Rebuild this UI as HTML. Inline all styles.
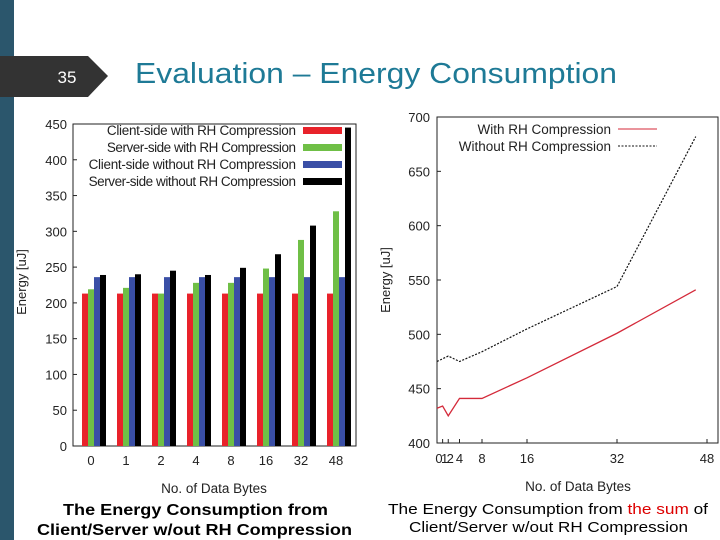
<!DOCTYPE html>
<html><head><meta charset="utf-8"><style>
body{margin:0;width:720px;height:540px;overflow:hidden;background:#fff;font-family:"Liberation Sans",sans-serif;position:relative}
.ab{position:absolute}
</style></head><body>
<div class="ab" style="left:0;top:0;width:14px;height:540px;background:#2b566c"></div>
<svg class="ab" style="left:0;top:0" width="720" height="540">
<polygon points="0,56 88,56 108,76 88,97 0,97" fill="#333"/>
<text x="67" y="83" fill="#fff" font-size="17" text-anchor="middle">35</text>
<text x="135" y="83" fill="#1e7a96" font-size="29" textLength="482" lengthAdjust="spacingAndGlyphs">Evaluation – Energy Consumption</text>
<g id="left"></g>
<g id="right"></g>
<text x="63" y="515" font-size="16" font-weight="bold" textLength="265" lengthAdjust="spacingAndGlyphs">The Energy Consumption from</text>
<text x="37" y="535" font-size="16" font-weight="bold" textLength="315" lengthAdjust="spacingAndGlyphs">Client/Server w/out RH Compression</text>
<text x="388" y="514" font-size="15" textLength="320" lengthAdjust="spacingAndGlyphs">The Energy Consumption from <tspan fill="#d00">the sum</tspan> of</text>
<text x="409" y="532" font-size="15" textLength="279" lengthAdjust="spacingAndGlyphs">Client/Server w/out RH Compression</text>
</svg>
<script>
const barCats=["0","1","2","4","8","16","32","48"];
const clientWith=[213,213,213,213,213,213,213,213];
const serverWith=[219,221,213,228,228,248,288,328];
const clientWithout=[236,236,236,236,236,236,236,236];
const serverWithout=[239,240,245,239,249,268,308,445];
const barSeriesNames=["Client-side with RH Compression","Server-side with RH Compression","Client-side without RH Compression","Server-side without RH Compression"];
const barTicks=[0,50,100,150,200,250,300,350,400,450];

const lineX=[0,1,2,4,8,16,32,46];
const withRH=[432,434,425,441,441,460,501,541];
const withoutX=[0,2,4,8,16,32,46];
const withoutRH=[475,480,475,484,505,544,682];
const lineXTicks=[0,1,2,4,8,16,32,48];
const lineXTickLabels=["0","1","2","4","8","16","32","48"];
const lineYTicks=[400,450,500,550,600,650,700];
const lineNames=["With RH Compression","Without RH Compression"];

const NS="http://www.w3.org/2000/svg";
function mk(p,t,a,txt){const e=document.createElementNS(NS,t);for(const k in a)e.setAttribute(k,a[k]);if(txt!==undefined)e.textContent=txt;p.appendChild(e);return e;}

(function(){
const g=document.getElementById('left');
const L=73,R=356,T=124,B=446;
const y=v=>B-(v-0)/450*(B-T);
const cx=i=>91+i*35+3;
const frame=mk(g,'rect',{x:L,y:T,width:R-L,height:B-T,fill:'none',stroke:'#222','stroke-width':1});

barTicks.forEach(t=>{
 const tl=mk(g,'text',{x:L-6,y:y(t)+5,'font-size':13,'text-anchor':'end',fill:'#222'},t);
 
 mk(g,'line',{x1:L,x2:L+4,y1:y(t),y2:y(t),stroke:'#222'});
});
const series=[clientWith,serverWith,clientWithout,serverWithout];
const cols=['#e8222a','#6fbf46','#3a4fa6','#000'];
barCats.forEach((c,i)=>{
 series.forEach((s,j)=>{
  const r=mk(g,'rect',{x:cx(i)-12+j*6,y:y(s[i]),width:6,height:B-y(s[i]),fill:cols[j]});
  
 });
 const xl=mk(g,'text',{x:cx(i)-3,y:B+19,'font-size':13,'text-anchor':'middle',fill:'#222'},c);
 
});
barSeriesNames.forEach((n,j)=>{
 const yy=T+6+j*17;
 const t=mk(g,'text',{x:296,y:yy+5,'font-size':13.5,'text-anchor':'end',fill:'#222',textLength:n.length*6.1},n);
 
 mk(g,'rect',{x:303,y:yy-3,width:39,height:7,fill:cols[j]});
});
const yt=mk(g,'text',{x:0,y:0,'font-size':13,'text-anchor':'middle',fill:'#222',transform:'translate(26,282) rotate(-90)'},'Energy [uJ]');

const xt=mk(g,'text',{x:214,y:493,'font-size':13.5,'text-anchor':'middle',fill:'#222'},'No. of Data Bytes');

})();

(function(){
const g=document.getElementById('right');
const L=437,R=718,T=117,B=443;
const x=v=>L+v*5.625;
const y=v=>B-(v-400)/300*(B-T);
const fr=mk(g,'rect',{x:L,y:T,width:R-L,height:B-T,fill:'none',stroke:'#222'});

lineYTicks.forEach(t=>{
 const tl=mk(g,'text',{x:L-7,y:y(t)+5,'font-size':13,'text-anchor':'end',fill:'#222'},t);
 
 mk(g,'line',{x1:L,x2:L+4,y1:y(t),y2:y(t),stroke:'#222'});
});
lineXTicks.forEach((t,i)=>{
 mk(g,'line',{x1:x(t),x2:x(t),y1:B,y2:B-4,stroke:'#222'});
 const tl=mk(g,'text',{x:x(t)+(t<4?2:0),y:B+20,'font-size':13,'text-anchor':'middle',fill:'#222'},lineXTickLabels[i]);
 
});
const p1=mk(g,'polyline',{points:lineX.map((v,i)=>x(v)+','+y(withRH[i])).join(' '),fill:'none',stroke:'#d42a3a','stroke-width':1.3});

const p2=mk(g,'polyline',{points:withoutX.map((v,i)=>x(v)+','+y(withoutRH[i])).join(' '),fill:'none',stroke:'#111','stroke-width':1.2,'stroke-dasharray':'2,1.5'});

lineNames.forEach((n,j)=>{
 const yy=129+j*17;
 const t=mk(g,'text',{x:611,y:yy+5,'font-size':13.5,'text-anchor':'end',fill:'#222'},n);
 
 mk(g,'line',{x1:618,x2:657,y1:yy,y2:yy,stroke:j?'#111':'#d42a3a','stroke-dasharray':j?'2,1.5':'none'});
});
const yt=mk(g,'text',{x:0,y:0,'font-size':13,'text-anchor':'middle',fill:'#222',transform:'translate(390,280) rotate(-90)'},'Energy [uJ]');

const xt=mk(g,'text',{x:578,y:491,'font-size':13.5,'text-anchor':'middle',fill:'#222'},'No. of Data Bytes');

})();
</script>
</body></html>
